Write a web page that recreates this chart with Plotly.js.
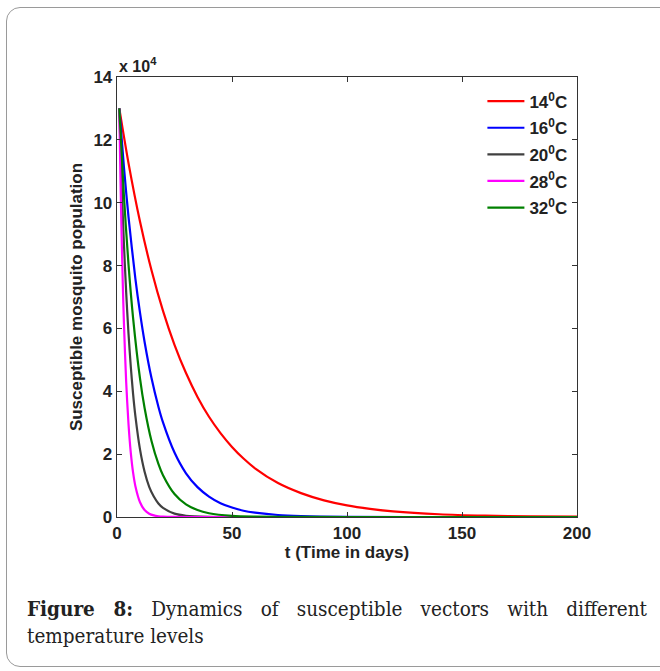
<!DOCTYPE html>
<html>
<head>
<meta charset="utf-8">
<script src="https://cdn.plot.ly/plotly-3.0.1.min.js"></script>
<style>
  html, body { margin:0; padding:0; width:660px; height:671px; overflow:hidden; background:#fff; }
  #frame { position:absolute; left:6px; top:7px; width:700px; height:660px; border:1px solid #9a9a9a; border-radius:14px; box-sizing:border-box; }
  #chart { position:absolute; left:0; top:0; width:660px; height:671px; }
  .cap { position:absolute; left:27px; width:620px; font-family:"DejaVu Serif Condensed","DejaVu Serif","Liberation Serif",serif; font-stretch:condensed; font-size:20.5px; line-height:27px; color:#222; white-space:nowrap; }
  #cap1 { top:596px; text-align:justify; text-align-last:justify; white-space:normal; }
  #cap2 { top:623px; }
</style>
</head>
<body>
<div id="frame"></div>
<div id="chart"></div>
<div class="cap" id="cap1"><b>Figure 8:</b> Dynamics of susceptible vectors with different</div>
<div class="cap" id="cap2">temperature levels</div>
<script>
// Values in units of 10^4
const seriesNames = ["14<sup>0</sup>C", "16<sup>0</sup>C", "20<sup>0</sup>C", "28<sup>0</sup>C", "32<sup>0</sup>C"];
const seriesColors = ["#ff0000", "#0000ff", "#404040", "#ff00ff", "#008000"];

const t14 = [1, 5, 10, 15, 20, 25, 30, 35, 40, 45, 50, 55, 60, 70, 80, 90, 100, 110, 120, 140, 160, 180, 200];
const s14 = [13, 11.26, 9.40, 7.85, 6.56, 5.48, 4.58, 3.82, 3.19, 2.67, 2.23, 1.86, 1.55, 1.08, 0.76, 0.53, 0.37, 0.26, 0.18, 0.087, 0.042, 0.02, 0.01];

const t16 = [1, 3, 5, 8, 10, 12, 15, 18, 20, 25, 30, 35, 40, 45, 50, 55, 60, 70, 80, 100, 150, 200];
const s16 = [13, 11.14, 9.55, 7.58, 6.5, 5.57, 4.42, 3.51, 3.01, 2.05, 1.39, 0.95, 0.65, 0.44, 0.30, 0.20, 0.14, 0.064, 0.03, 0.006, 0, 0];

const t20 = [1, 2, 3, 4, 5, 6, 7, 8, 10, 12, 14, 16, 18, 20, 25, 30, 40, 50, 200];
const s20 = [13, 10.64, 8.71, 7.13, 5.84, 4.78, 3.91, 3.21, 2.15, 1.44, 0.96, 0.65, 0.43, 0.29, 0.107, 0.039, 0.005, 0, 0];

const t28 = [1, 1.5, 2, 2.5, 3, 4, 5, 6, 7, 8, 10, 12, 14, 16, 18, 20, 25, 30, 200];
const s28 = [13, 10.80, 8.98, 7.46, 6.20, 4.28, 2.96, 2.04, 1.41, 0.98, 0.47, 0.22, 0.106, 0.05, 0.024, 0.011, 0.002, 0, 0];

const t32 = [1, 3, 5, 7, 10, 12, 15, 18, 20, 25, 30, 35, 40, 50, 60, 80, 100, 200];
const s32 = [13, 10.23, 8.04, 6.33, 4.41, 3.47, 2.42, 1.69, 1.33, 0.73, 0.40, 0.22, 0.12, 0.036, 0.011, 0.001, 0, 0];

const xTicks = [0, 50, 100, 150, 200];
const yTicks = [0, 2, 4, 6, 8, 10, 12, 14];

const xs = [t14, t16, t20, t28, t32];
const ys = [s14, s16, s20, s28, s32];

const traces = xs.map((x, i) => ({
  x: x, y: ys[i], type: 'scatter', mode: 'lines', name: seriesNames[i], legendgroup: 'g' + i,
  line: { color: seriesColors[i], width: 2.2, shape: 'spline', smoothing: 0.8 }
}));

const fam = 'Liberation Sans, Arial, sans-serif';
const layout = {
  width: 660, height: 671,
  margin: { l: 117, r: 83, t: 77, b: 154 },
  paper_bgcolor: 'rgba(0,0,0,0)', plot_bgcolor: '#fff',
  showlegend: true,
  font: { family: fam, color: '#222' },
  xaxis: {
    range: [0, 200], tickvals: xTicks, ticktext: xTicks.map(String),
    ticks: 'inside', ticklen: 5, tickcolor: '#333', mirror: 'ticks',
    showline: true, linecolor: '#333', linewidth: 1.3, showgrid: false, zeroline: false,
    tickfont: { family: fam, size: 17, weight: 'bold', color: '#222' },
    title: { text: '<b>t (Time in days)</b>', font: { family: fam, size: 17, color: '#222' }, standoff: 1 }
  },
  yaxis: {
    range: [0, 14], tickvals: yTicks, ticktext: yTicks.map(String),
    ticks: 'inside', ticklen: 5, tickcolor: '#333', mirror: 'ticks',
    showline: true, linecolor: '#333', linewidth: 1.3, showgrid: false, zeroline: false,
    tickfont: { family: fam, size: 17, weight: 'bold', color: '#222' },
    title: { text: '<b>Susceptible mosquito population</b>', font: { family: fam, size: 17, color: '#222' }, standoff: 6 }
  },
  legend: {
    x: 0.99, y: 0.985, xanchor: 'right', yanchor: 'top',
    bgcolor: 'rgba(0,0,0,0)', borderwidth: 0,
    font: { family: fam, size: 17, weight: 'bold', color: '#222' },
    itemwidth: 37, tracegroupgap: 1.5
  },
  annotations: [{
    xref: 'paper', yref: 'paper', x: 0, y: 1, xanchor: 'left', yanchor: 'bottom',
    text: '<b>x 10<sup>4</sup></b>', showarrow: false,
    font: { family: fam, size: 16, color: '#222' }
  }]
};

Plotly.newPlot('chart', traces, layout, { displayModeBar: false, staticPlot: true });
</script>
</body>
</html>
